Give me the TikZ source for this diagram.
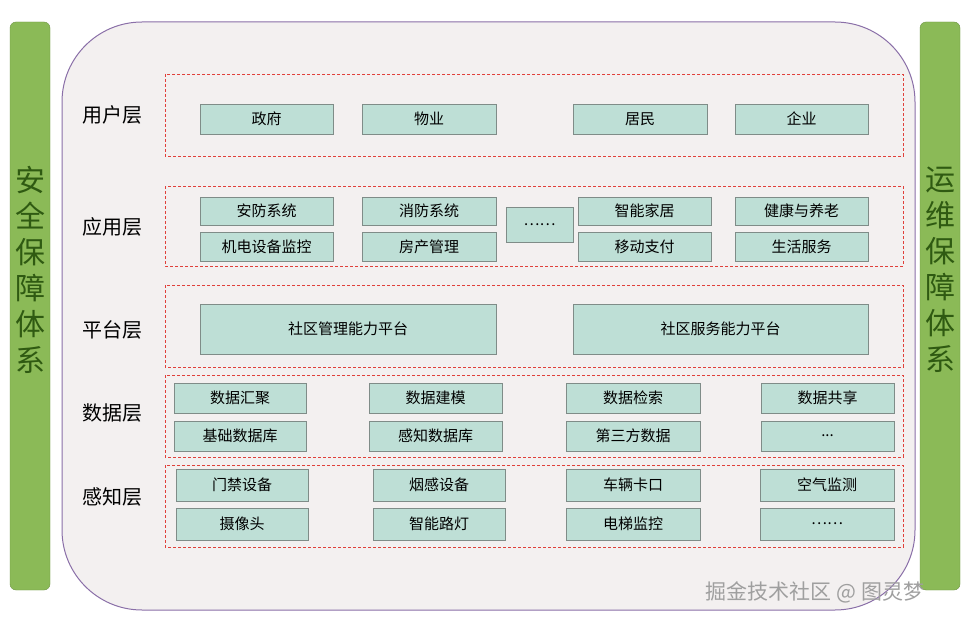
\documentclass[tikz,border=0pt]{standalone}
\usepackage{fontspec}
\setmainfont{Noto Sans CJK SC}
\definecolor{barGreen}{HTML}{8BBA57}
\definecolor{barText}{HTML}{2F5A12}
\definecolor{boxFill}{HTML}{BEDFD6}
\definecolor{boxLine}{HTML}{7F8C88}
\definecolor{mainFill}{HTML}{F3F0F0}
\definecolor{mainLine}{HTML}{8A6FA8}
\definecolor{frameRed}{HTML}{E0403A}
\tikzset{
  box/.style={draw=boxLine, fill=boxFill, line width=0.8pt, font=\fontsize{15}{15}\selectfont},
  frame/.style={draw=frameRed, dash pattern=on 3pt off 2pt, line width=0.8pt},
  layer/.style={font=\fontsize{20}{20}\selectfont},
  side/.style={font=\fontsize{30}{36}\selectfont, text=barText, align=center},
}
% box from (x1,y1) to (x2,y2) in pixels
\newcommand{\bx}[6]{\draw[box] (#2,#3) rectangle (#4,#5) node[midway] (#1) {#6};}
\begin{document}
\begin{tikzpicture}[x=1pt,y=-1pt]
   \useasboundingbox (0,0) rectangle (969,623);
   \fill[white] (0,0) rectangle (969,623);

   % side bars
   \draw[fill=barGreen, draw=barGreen!80!black, rounded corners=6pt] (10,22) rectangle (50,590);
   \node[side] (safe) at (30,270) {安\\全\\保\\障\\体\\系};
   \draw[fill=barGreen, draw=barGreen!80!black, rounded corners=6pt] (920,22) rectangle (960,590);
   \node[side] (ops) at (940,270) {运\\维\\保\\障\\体\\系};

   % main area
   \draw[fill=mainFill, draw=mainLine, line width=1pt, rounded corners=80pt] (62,22) rectangle (915,610);

   % layer frames
   \draw[frame] (165,74) rectangle (903,156);
   \draw[frame] (165,186) rectangle (903,266);
   \draw[frame] (165,285) rectangle (903,367);
   \draw[frame] (165,375) rectangle (903,457);
   \draw[frame] (165,465) rectangle (903,547);

   \node[layer] (user) at (112,115) {用户层};
   \node[layer] (app) at (112,227) {应用层};
   \node[layer] (plat) at (112,330) {平台层};
   \node[layer] (data) at (112,413) {数据层};
   \node[layer] (sense) at (112,497) {感知层};

   % user layer
   \bx{gov}{200}{104}{333}{134}{政府}
   \bx{prop}{362}{104}{496}{134}{物业}
   \bx{res}{573}{104}{707}{134}{居民}
   \bx{ent}{735}{104}{868}{134}{企业}

   % application layer
   \bx{sec}{200}{197}{333}{225}{安防系统}
   \bx{fire}{362}{197}{496}{225}{消防系统}
   \bx{home}{578}{197}{711}{225}{智能家居}
   \bx{care}{735}{197}{868}{225}{健康与养老}
   \bx{mech}{200}{232}{333}{261}{机电设备监控}
   \bx{house}{362}{232}{496}{261}{房产管理}
   \bx{pay}{578}{232}{711}{261}{移动支付}
   \bx{life}{735}{232}{868}{261}{生活服务}
   \bx{more}{506}{207}{573}{242}{……}

   % platform layer
   \bx{mgmt}{200}{304}{496}{354}{社区管理能力平台}
   \bx{serv}{573}{304}{868}{354}{社区服务能力平台}

   % data layer
   \bx{agg}{174}{383}{306}{413}{数据汇聚}
   \bx{model}{369}{383}{502}{413}{数据建模}
   \bx{search}{566}{383}{700}{413}{数据检索}
   \bx{share}{761}{383}{894}{413}{数据共享}
   \bx{base}{174}{421}{306}{451}{基础数据库}
   \bx{sdb}{369}{421}{502}{451}{感知数据库}
   \bx{third}{566}{421}{700}{451}{第三方数据}
   \bx{dmore}{761}{421}{894}{451}{...}

   % sensing layer
   \bx{door}{176}{469}{308}{501}{门禁设备}
   \bx{smoke}{373}{469}{505}{501}{烟感设备}
   \bx{car}{566}{469}{700}{501}{车辆卡口}
   \bx{air}{760}{469}{894}{501}{空气监测}
   \bx{cam}{176}{508}{308}{540}{摄像头}
   \bx{lamp}{373}{508}{505}{540}{智能路灯}
   \bx{lift}{566}{508}{700}{540}{电梯监控}
   \bx{smore}{760}{508}{894}{540}{……}

   \node[font=\fontsize{21}{21}\selectfont, text=gray!75] (mark) at (815,592) {掘金技术社区 @ 图灵梦};
\end{tikzpicture}
\end{document}
